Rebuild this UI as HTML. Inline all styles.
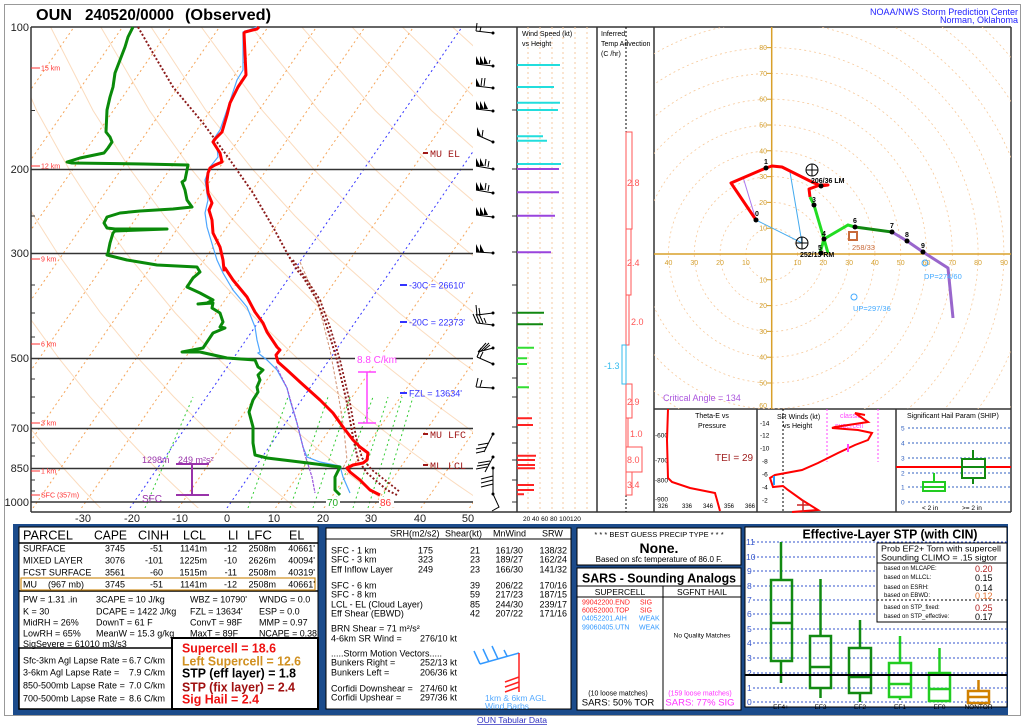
<!DOCTYPE html>
<html><head><meta charset="utf-8"><style>
body{margin:0;background:#fff;}
svg{display:block;font-family:"Liberation Sans",sans-serif;}
.mono{font-family:"Liberation Mono",monospace;}
</style></head><body>
<svg width="1024" height="727" viewBox="0 0 1024 727" xmlns="http://www.w3.org/2000/svg">
<defs>
<clipPath id="skc"><rect x="31" y="27" width="442" height="481"/></clipPath>
<clipPath id="hoc"><rect x="654" y="27" width="357" height="382"/></clipPath>
</defs>
<rect width="1024" height="727" fill="#fff"/>
<rect x="4.5" y="4.5" width="1016" height="711" fill="none" stroke="#999" stroke-width="1"/>

<!-- Title -->
<text x="36" y="20" font-size="16" font-weight="bold" textLength="36" lengthAdjust="spacingAndGlyphs">OUN</text>
<text x="85" y="20" font-size="16" font-weight="bold" textLength="89" lengthAdjust="spacingAndGlyphs">240520/0000</text>
<text x="185" y="20" font-size="16" font-weight="bold" textLength="86" lengthAdjust="spacingAndGlyphs">(Observed)</text>
<text x="1018" y="15" font-size="9" fill="#2222ff" text-anchor="end" textLength="148" lengthAdjust="spacingAndGlyphs">NOAA/NWS Storm Prediction Center</text>
<text x="1018" y="23" font-size="9" fill="#2222ff" text-anchor="end">Norman, Oklahoma</text>

<!-- SKEW-T background -->
<g clip-path="url(#skc)">
<g id="dry" stroke="#fbdcbf" fill="none" stroke-width="1"></g>
<g stroke="#f5a55a" stroke-width="1" stroke-dasharray="2 3" fill="none">
<path d="M-258 508L74 27M-209.5 508L122.5 27M-161 508L171 27M-112.5 508L219.5 27M-64 508L268 27M-15.5 508L316.5 27M33 508L365 27M81.5 508L413.5 27M178.5 508L510.5 27M275.5 508L607.5 27M324 508L656 27M372.5 508L704.5 27M421 508L753 27M469.5 508L801.5 27"/>
</g>
<g stroke="#3333ff" stroke-width="1" stroke-dasharray="2 3" fill="none">
<path d="M130 508L462 27M227 508L559 27"/>
</g>
<g stroke="#33cc33" stroke-width="1" stroke-dasharray="2 3" fill="none">
<path d="M145 508L193 397M248 508L288 397M290 508L328 397M313 508L350 397M333 508L373 397M353 508L388 397M368 508L402 397M380 508L413 397"/>
</g>
</g>
<!-- isobars -->
<g stroke="#333" stroke-width="1.5">
<path d="M31 169.5H473M31 253.5H473M31 358.5H473M31 428.5H473M31 468.5H473M31 502H473"/>
</g>
<g stroke="#333" stroke-width="1">
<path d="M31 110.5H35M31 216H35M31 285H35M31 313H35M31 337H35M31 379H35M31 397H35M31 413H35M31 443H35M31 456H35M31 480H35M31 491H35"/>
</g>
<!-- frames -->
<g stroke="#333" stroke-width="1.5" fill="none">
<path d="M31 27H1011M31 512H1011M31 27V512M517 27V512M597 27V512M654 27V512M1011 27V512M654 409H1011M757 409V512M896 409V512"/>
</g>
<!-- pressure labels -->
<g font-size="11" text-anchor="end" fill="#222">
<text x="29" y="31">100</text><text x="29" y="173">200</text><text x="29" y="257">300</text>
<text x="29" y="362">500</text><text x="29" y="432">700</text><text x="29" y="472">850</text><text x="29" y="506">1000</text>
</g>
<g font-size="11" text-anchor="middle" fill="#222">
<text x="83" y="522">-30</text><text x="132" y="522">-20</text><text x="180" y="522">-10</text><text x="227" y="522">0</text>
<text x="274" y="522">10</text><text x="323" y="522">20</text><text x="371" y="522">30</text><text x="420" y="522">40</text><text x="468" y="522">50</text>
</g>
<!-- height labels -->
<g stroke="#ff3333" stroke-width="1"><path d="M31 68H40M31 166H40M31 259H40M31 344H40M31 423H40M31 471H40M31 495H40"/></g>
<g font-size="7" fill="#ff3333">
<text x="41" y="70.5">15 km</text><text x="41" y="168.5">12 km</text><text x="41" y="261.5">9 km</text><text x="41" y="346.5">6 km</text>
<text x="41" y="425.5">3 km</text><text x="41" y="473.5">1 km</text><text x="41" y="497.5">SFC (357m)</text>
</g>

<!-- parcel traces -->
<polyline fill="none" stroke="#d09070" stroke-width="1" stroke-dasharray="3 2" points="300,262 318,303 330,350 338,393 344,430 347,460 343,468"/>
<polyline fill="none" stroke="#8b1a1a" stroke-width="2" stroke-dasharray="2 2" points="138,27 157,60 173,87 203,123 230,160 253,193 273,227 287,253 297,270 303,277 317,300 327,327 337,360 347,403 353,437 358,460 367,473 387,490 397,495"/>
<polyline fill="none" stroke="#8b1a1a" stroke-width="1.8" stroke-dasharray="2 2" points="293,260 307,280 320,300 330,327 340,360 350,403 356,437 362,458 372,470 390,484 400,492"/>
<!-- wetbulb -->
<polyline fill="none" stroke="#4da6ff" stroke-width="1.2" points="257,27 243,32 243,70 237,80 227,110 220,130 213,140 217,147 218,157 210,167 205,180 208,200 205,213 207,227 213,247 217,260 223,273 233,290 247,307 255,327 257,340 260,352 258,353 267,360 277,370 287,388 290,400 297,423 303,447 307,457 320,462 340,466 343,477 350,493"/>
<polyline fill="none" stroke="#9955dd" stroke-width="1.2" stroke-dasharray="3 1" points="276,366 287,388 297,423 305,455 312,477 315,493"/>
<!-- dewpoint -->
<polyline fill="none" stroke="#0a8a0a" stroke-width="3" stroke-linejoin="round" points="133,27 128,37 125,47 120,60 115,73 113,87 110,97 107,110 106,132 110,137 112,142 108,148 104,153 80,158 67,162 72,163 143,164 188,165 187,170 185,180 182,182 185,190 187,200 192,207 173,209 140,211 120,213 107,217 104,223 107,228 115,229 167,229 115,231 113,233 110,243 108,253 107,255 127,260 157,265 197,267 200,272 193,278 187,287 200,293 213,300 207,303 198,304 213,303 212,308 220,313 223,322 220,327 225,328 213,333 203,348 182,352 200,352 227,358 255,360 258,367 263,370 258,375 260,380 257,387 258,392 253,400 249,412 253,427 253,443 255,455 267,458 300,462 340,467 335,477 335,490 340,495"/>
<!-- temperature -->
<polyline fill="none" stroke="#ff0000" stroke-width="3" stroke-linejoin="round" points="259,27 257,29 245,32 244,33 246,75 238,87 230,103 227,115 222,132 215,139 213,142 220,153 222,162 215,165 210,168 208,173 207,182 208,193 212,203 209,210 212,220 213,233 220,247 223,260 224,270 225,268 233,280 247,297 255,312 263,323 267,332 277,347 280,350 276,355 278,362 287,370 300,382 320,400 333,413 343,427 353,440 360,447 368,453 367,460 363,463 353,465 347,468 350,472 360,480 370,490 380,495"/>

<!-- skew-T annotations -->
<g font-size="10" fill="#a01818" class="mono">
<path d="M423 153H428M423 434H428M423 465H428" stroke="#a01818" stroke-width="2"/>
<text x="430" y="157">MU EL</text><text x="430" y="438">MU LFC</text><text x="430" y="469">ML LCL</text>
</g>
<g font-size="9" fill="#3333ff">
<path d="M400 285H407M400 322H407M400 393H407" stroke="#3333ff" stroke-width="2"/>
<text x="409" y="288.5" textLength="56" lengthAdjust="spacingAndGlyphs">-30C = 26610'</text>
<text x="409" y="325.5" textLength="56" lengthAdjust="spacingAndGlyphs">-20C = 22373'</text>
<text x="409" y="396.5" textLength="53" lengthAdjust="spacingAndGlyphs">FZL = 13634'</text>
</g>
<rect x="355" y="353" width="40" height="11" fill="#fff"/>
<text x="357" y="363" font-size="10" fill="#ff44ff">8.8 C/km</text>
<path d="M367 372V423M358 372H376M358 423H376" stroke="#ff44ff" stroke-width="1.5" fill="none"/>
<g font-size="9" fill="#9933aa">
<text x="142" y="463">1298m</text><text x="178" y="463">249 m²s²</text>
<text x="142" y="502" font-size="10">SFC</text>
</g>
<path d="M192 464V495M176 464H209M176 495H209" stroke="#9933aa" stroke-width="2" fill="none"/>
<rect x="326" y="497" width="14" height="10" fill="#fff"/>
<text x="327" y="506" font-size="10" fill="#22aa22">70</text>
<rect x="379" y="497" width="15" height="10" fill="#fff"/>
<text x="380" y="506" font-size="10" fill="#ff3333">86</text>

<!-- wind barbs -->
<g stroke="#000" stroke-width="1" fill="none">
<path d="M493 33L476 31M476 31L477 23M480 31L481 27"/>
<path d="M493 66L476 64M489 64L490 60"/>
<path d="M493 88L476 86M481 86L482 78M484 86L485 78"/>
<path d="M493 111L476 109"/>
<path d="M493 142L477 135M482 137L483 130"/>
<path d="M493 169L476 166M485 166L486 159M488 167L489 161"/>
<path d="M493 193L476 190M485 190L486 183M488 191L489 185"/>
<path d="M493 217L476 215"/>
<path d="M493 253L476 252"/>
<path d="M493 313L477 315M477 315L476 305M480 315L479 308"/>
<path d="M493 325L477 323M477 323L473 314M480 323L476 314M483 323L479 314M486 323L484 318"/>
<path d="M493 348L478 352M478 352L486 343M481 351L489 343M484 350L490 345"/>
<path d="M493 364L477 357M477 357L481 348M480 358L483 352"/>
<path d="M493 388L476 387M476 387L478 378M480 387L482 380"/>
<path d="M493 434L484 452M489 443L478 445M487 447L476 449M485 451L476 453"/>
<path d="M493 457L485 472M490 461L478 463M489 464L477 466M487 467L476 469"/>
<path d="M493 468V493M493 476L481 479M493 480L481 483M493 484L481 487"/>
<path d="M493 494L499 507L492 511"/>
</g>
<g fill="#000">
<polygon points="476,64 476,56 480,64"/><polygon points="480,64 480,56 484,64"/><polygon points="484,64 484,56 488,64"/>
<polygon points="476,86 476,78 480,86"/>
<polygon points="476,109 476,101 480,109"/><polygon points="480,109 480,101 484,109"/><polygon points="484,109 484,101 488,109"/>
<polygon points="477,135 477,127 481,136"/>
<polygon points="476,166 476,158 480,166"/><polygon points="480,166 480,158 484,166"/>
<polygon points="476,190 476,182 480,190"/><polygon points="480,190 480,182 484,190"/>
<polygon points="476,215 476,207 480,215"/><polygon points="480,215 480,207 484,215"/><polygon points="484,215 484,207 488,215"/>
<polygon points="476,252 476,244 480,252"/><polygon points="480,252 480,244 484,252"/>
<circle cx="493" cy="33" r="1.5"/><circle cx="493" cy="66" r="1.5"/><circle cx="493" cy="88" r="1.5"/><circle cx="493" cy="111" r="1.5"/>
<circle cx="493" cy="142" r="1.5"/><circle cx="493" cy="169" r="1.5"/><circle cx="493" cy="193" r="1.5"/><circle cx="493" cy="217" r="1.5"/>
<circle cx="493" cy="253" r="1.5"/><circle cx="493" cy="313" r="1.5"/><circle cx="493" cy="325" r="1.5"/><circle cx="493" cy="348" r="1.5"/>
<circle cx="493" cy="364" r="1.5"/><circle cx="493" cy="388" r="1.5"/><circle cx="493" cy="434" r="1.5"/><circle cx="493" cy="457" r="1.5"/>
<circle cx="493" cy="468" r="1.5"/><circle cx="493" cy="494" r="1.5"/>
</g>

<!-- wind speed panel -->
<g stroke="#f5c9a0" stroke-dasharray="2 3" stroke-width="1"><path d="M528 27V512M540 27V512M552 27V512M563 27V512M575 27V512M587 27V512"/></g>
<g stroke="#333" stroke-width="1"><path d="M512 110H517M512 169H517M512 216H517M512 252H517M512 285H517M512 313H517M512 378H517M512 397H517M512 427H517M512 443H517M512 460H517M512 480H517M512 502H517"/></g>
<text x="522" y="36" font-size="7">Wind Speed (kt)</text>
<text x="522" y="46" font-size="7">vs Height</text>
<text x="523" y="521" font-size="6.5">20 40 60 80 100120</text>
<g stroke-width="2">
<path stroke="#22dddd" d="M517 65H560M517 87H554M517 102.7H560M517 110H558M517 136.3H543M517 140.7H547M517 164H561"/>
<path stroke="#9944dd" d="M517 169H559M517 192.3H559M517 215.7H555M517 252.3H551"/>
<path stroke="#118811" d="M517 312.7H544M517 324.3H543"/>
<path stroke="#33dd33" d="M517 347.7H534M517 358.3H527M517 364H527M517 387.3H529"/>
<path stroke="#ff2222" d="M517 418.3H532M517 425H533M517 455.7H536M517 460H535M517 465H535M517 468.3H535M517 485H534M517 490H534M517 494.3H524"/>
</g>

<!-- temp advection -->
<text x="601" y="36" font-size="7">Inferred</text>
<text x="601" y="46" font-size="7">Temp Advection</text>
<text x="601" y="56" font-size="7">(C /hr)</text>
<path d="M626 27V512" stroke="#000" stroke-width="1" stroke-dasharray="2 2"/>
<g fill="none" stroke="#ff5555" stroke-width="1">
<rect x="626" y="132" width="6" height="97"/><rect x="626" y="229" width="5" height="66"/><rect x="626" y="295" width="3" height="50"/>
<rect x="626" y="384" width="6" height="34"/><rect x="626" y="418" width="2" height="29"/><rect x="626" y="447" width="16" height="25"/><rect x="626" y="472" width="6" height="23"/>
</g>
<rect x="622" y="345" width="4" height="39" fill="none" stroke="#33bbee" stroke-width="1"/>
<g font-size="9" fill="#ff5555">
<text x="627" y="186">2.8</text><text x="627" y="266">2.4</text><text x="631" y="325">2.0</text>
<text x="627" y="405">2.9</text><text x="630" y="437">1.0</text><text x="627" y="463">8.0</text><text x="627" y="488">3.4</text>
</g>
<text x="604" y="369" font-size="9" fill="#33bbee">-1.3</text>

<!-- HODOGRAPH -->
<g clip-path="url(#hoc)" fill="none" stroke="#f7c99a" stroke-width="0.8" stroke-dasharray="2 3">
<circle cx="771.7" cy="254" r="25.8"/><circle cx="771.7" cy="254" r="51.6"/><circle cx="771.7" cy="254" r="77.4"/>
<circle cx="771.7" cy="254" r="103.2"/><circle cx="771.7" cy="254" r="129"/><circle cx="771.7" cy="254" r="154.8"/>
<circle cx="771.7" cy="254" r="180.6"/><circle cx="771.7" cy="254" r="206.4"/><circle cx="771.7" cy="254" r="232.2"/>
<circle cx="771.7" cy="254" r="258"/><circle cx="771.7" cy="254" r="283.8"/><circle cx="771.7" cy="254" r="309.6"/><circle cx="771.7" cy="254" r="335.4"/>
</g>
<path d="M654 254H1011M771.7 27V409" stroke="#d9a02a" stroke-width="1.5"/>
<g font-size="7" fill="#d4a030" text-anchor="middle">
<text x="668.5" y="265">40</text><text x="694.3" y="265">30</text><text x="720" y="265">20</text><text x="745.9" y="265">10</text>
<text x="797.5" y="265">10</text><text x="823.3" y="265">20</text><text x="849.1" y="265">30</text><text x="874.9" y="265">40</text>
<text x="900.7" y="265">50</text><text x="926.5" y="265">60</text><text x="952.3" y="265">70</text><text x="978" y="265">80</text><text x="1004" y="265">90</text>
</g>
<g font-size="7" fill="#d4a030" text-anchor="end">
<text x="767" y="50">80</text><text x="767" y="76">70</text><text x="767" y="101.7">60</text><text x="767" y="127.5">50</text>
<text x="767" y="153.3">40</text><text x="767" y="179">30</text><text x="767" y="205">20</text><text x="767" y="230.7">10</text>
<text x="767" y="282.3">10</text><text x="767" y="308">20</text><text x="767" y="334">30</text><text x="767" y="359.7">40</text><text x="767" y="385.5">50</text><text x="767" y="408">60</text>
</g>
<g stroke="#d4a030" stroke-width="1"><path d="M767 47.6H772M767 73.4H772M767 99.2H772M767 125H772M767 150.8H772M767 176.6H772M767 202.4H772M767 228.2H772M767 279.8H772M767 305.6H772M767 331.4H772M767 357.2H772M767 383H772"/></g>
<!-- hodo traces -->
<path d="M743 177L756 220" stroke="#aa77ee" stroke-width="1" fill="none"/>
<path d="M756 220L802 243L790 172" stroke="#44aaee" stroke-width="1" fill="none"/>
<polyline fill="none" stroke="#ff0000" stroke-width="3" stroke-linejoin="round" points="756,220 731,183 766,168 772,166 782,167 812,182 821,186 828,185 820,185 809,189 810,197"/>
<polyline fill="none" stroke="#22dd22" stroke-width="3" stroke-linejoin="round" points="810,197 814,205 824,239 828,253"/>
<polyline fill="none" stroke="#22dd22" stroke-width="3" points="824,239 820,253"/>
<polyline fill="none" stroke="#22dd22" stroke-width="3" points="824,239 848,225 855,227"/>
<polyline fill="none" stroke="#118811" stroke-width="3" points="855,227 892,232"/>
<polyline fill="none" stroke="#9966cc" stroke-width="3" stroke-linejoin="round" points="892,232 907,241 923,252 948,268 953,318"/>
<g fill="#000">
<circle cx="756" cy="220" r="2.5"/><circle cx="766" cy="168" r="2.5"/><circle cx="821" cy="186" r="2.5"/><circle cx="814" cy="205" r="2.5"/>
<circle cx="824" cy="239" r="2.5"/><circle cx="821" cy="253" r="2.5"/><circle cx="855" cy="227" r="2.5"/><circle cx="892" cy="232" r="2.5"/>
<circle cx="907" cy="241" r="2.5"/><circle cx="923" cy="252" r="2.5"/>
</g>
<g font-size="7" font-weight="bold" fill="#000">
<text x="755" y="216">0</text><text x="764" y="164">1</text><text x="812" y="202">3</text><text x="822" y="236">4</text>
<text x="818" y="250">5</text><text x="853" y="223">6</text><text x="890" y="228">7</text><text x="905" y="237">8</text><text x="921" y="248">9</text>
<text x="811" y="183">206/36 LM</text><text x="800" y="257">252/13 RM</text>
</g>
<g fill="none" stroke="#000" stroke-width="1">
<circle cx="812" cy="170" r="6"/><path d="M806 170H818M812 164V176"/>
<circle cx="802" cy="243" r="6"/><path d="M796 243H808M802 237V249"/>
</g>
<rect x="849" y="232" width="8" height="8" fill="none" stroke="#c86a3a" stroke-width="2"/>
<text x="852" y="250" font-size="7.5" fill="#c86a3a">258/33</text>
<circle cx="925" cy="263" r="3" fill="none" stroke="#44aaff"/>
<text x="924" y="279" font-size="7.5" fill="#44aaff">DP=274/60</text>
<circle cx="854" cy="297" r="3" fill="none" stroke="#44aaff"/>
<text x="853" y="311" font-size="7.5" fill="#44aaff">UP=297/36</text>
<text x="663" y="401" font-size="9" fill="#aa55dd">Critical Angle = 134</text>

<!-- theta-e panel -->
<text x="712" y="418" font-size="7" text-anchor="middle">Theta-E vs</text>
<text x="712" y="428" font-size="7" text-anchor="middle">Pressure</text>
<g font-size="6.5">
<text x="655" y="437.5">-600</text><text x="655" y="462.5">-700</text><text x="655" y="482.5">-800</text><text x="655" y="501.5">-900</text>
</g>
<g font-size="6" text-anchor="middle">
<text x="663" y="508">326</text><text x="687" y="508">336</text><text x="708" y="508">346</text><text x="729" y="508">356</text><text x="750" y="508">366</text>
</g>
<polyline fill="none" stroke="#ff0000" stroke-width="2" points="668,409 667,440 668,478 672,482 690,488 715,493 717,500 720,511"/>
<text x="715" y="461" font-size="10" fill="#a02020">TEI = 29</text>

<!-- SR winds panel -->
<text x="777" y="419" font-size="7">SR Winds (kt)</text>
<text x="783" y="428" font-size="7">vs Height</text>
<g font-size="6.5">
<text x="760" y="425.5">-14</text><text x="760" y="437.5">-12</text><text x="760" y="450.5">-10</text><text x="762" y="463.5">-8</text>
<text x="762" y="476.5">-6</text><text x="762" y="489.5">-4</text><text x="762" y="502.5">-2</text>
</g>
<path d="M783 409V512" stroke="#000" stroke-dasharray="2 2"/>
<path d="M827 409V462M878 409V462" stroke="#ff44ff" stroke-dasharray="2 2"/>
<text x="840" y="418" font-size="7" fill="#ff44ff">classic</text>
<text x="835" y="428" font-size="7" fill="#ff44ff">supercell</text>
<polyline fill="none" stroke="#ff0000" stroke-width="2" points="792,512 818,510 802,500 788,490 783,486 773,487 770,478 775,475 802,470 818,463 838,453 855,445 868,440 872,433 858,430 832,428 835,427 868,422 855,413 865,415"/>
<path d="M774 476V485" stroke="#2299ff" stroke-width="2"/>
<path d="M848 444V452" stroke="#ff44ff" stroke-width="2"/>
<path d="M803 500V512M797 505H809" stroke="#cc2222" stroke-width="1.5"/>

<!-- SHIP -->
<text x="907" y="418" font-size="7">Significant Hail Param (SHIP)</text>
<g stroke="#3060c0" stroke-dasharray="2 2" stroke-width="1"><path d="M908 428H1011M908 443H1011M908 458H1011M908 473H1011M908 487H1011M908 502H1011"/></g>
<g font-size="6.5" fill="#3060c0"><text x="901" y="430.5">5</text><text x="901" y="445.5">4</text><text x="901" y="460.5">3</text><text x="901" y="475.5">2</text><text x="901" y="489.5">1</text><text x="901" y="504.5">0</text></g>
<path d="M896 467H1011" stroke="#ff0000" stroke-width="2"/>
<rect x="923" y="482" width="22" height="9" fill="none" stroke="#22cc22" stroke-width="2"/>
<path d="M923 487H945M934 482V473" stroke="#22cc22" stroke-width="2" fill="none"/>
<rect x="962" y="459" width="23" height="19" fill="none" stroke="#118811" stroke-width="2"/>
<path d="M962 467H985M973 459V450M973 478V484" stroke="#118811" stroke-width="2" fill="none"/>
<text x="922" y="510" font-size="6.5">&lt; 2 in</text>
<text x="962" y="510" font-size="6.5">&gt;= 2 in</text>

<!-- BOTTOM -->
<rect x="13" y="524" width="995" height="191" fill="#1b4b8b"/>
<!-- Panel A -->
<rect x="19" y="527" width="299" height="182" fill="#fff" stroke="#000" stroke-width="1"/>
<path d="M19 543H318M19 591H318" stroke="#000" stroke-width="1.5"/>
<rect x="21" y="578" width="294" height="12" fill="none" stroke="#d09020" stroke-width="1.2"/>
<rect x="19" y="648" width="153" height="61" fill="#fff" stroke="#000" stroke-width="1.5"/>
<rect x="172" y="638" width="146" height="71" fill="#fff" stroke="#000" stroke-width="2"/>
<g font-size="12.5">
<text x="23" y="539.5" textLength="50" lengthAdjust="spacingAndGlyphs">PARCEL</text>
<text x="94" y="539.5" textLength="33" lengthAdjust="spacingAndGlyphs">CAPE</text>
<text x="138" y="539.5" textLength="31" lengthAdjust="spacingAndGlyphs">CINH</text>
<text x="183" y="539.5" textLength="23" lengthAdjust="spacingAndGlyphs">LCL</text>
<text x="228" y="539.5">LI</text>
<text x="247" y="539.5" textLength="25" lengthAdjust="spacingAndGlyphs">LFC</text>
<text x="289" y="539.5">EL</text>
</g>
<g font-size="9">
<text x="23" y="551.5">SURFACE</text><text x="23" y="563.5">MIXED LAYER</text><text x="23" y="575.5">FCST SURFACE</text>
<text x="23" y="587.5">MU</text><text x="48" y="587.5">(967 mb)</text>
</g>
<g font-size="9" text-anchor="end">
<text x="125" y="551.5">3745</text><text x="163" y="551.5">-51</text><text x="207" y="551.5">1141m</text><text x="237" y="551.5">-12</text><text x="276" y="551.5">2508m</text><text x="315" y="551.5">40661'</text>
<text x="125" y="563.5">3076</text><text x="163" y="563.5">-101</text><text x="207" y="563.5">1225m</text><text x="237" y="563.5">-10</text><text x="276" y="563.5">2626m</text><text x="315" y="563.5">40094'</text>
<text x="125" y="575.5">3561</text><text x="163" y="575.5">-60</text><text x="207" y="575.5">1515m</text><text x="237" y="575.5">-11</text><text x="276" y="575.5">2508m</text><text x="315" y="575.5">40319'</text>
<text x="125" y="587.5">3745</text><text x="163" y="587.5">-51</text><text x="207" y="587.5">1141m</text><text x="237" y="587.5">-12</text><text x="276" y="587.5">2508m</text><text x="315" y="587.5">40661'</text>
</g>
<g font-size="9">
<text x="23" y="602.5">PW = 1.31 .in</text><text x="96" y="602.5">3CAPE = 10 J/kg</text><text x="190" y="602.5">WBZ = 10790'</text><text x="259" y="602.5">WNDG = 0.0</text>
<text x="23" y="614.5">K = 30</text><text x="96" y="614.5">DCAPE = 1422 J/kg</text><text x="190" y="614.5">FZL = 13634'</text><text x="259" y="614.5">ESP = 0.0</text>
<text x="23" y="625.5">MidRH = 26%</text><text x="96" y="625.5">DownT = 61 F</text><text x="190" y="625.5">ConvT = 98F</text><text x="259" y="625.5">MMP = 0.97</text>
<text x="23" y="636.5">LowRH = 65%</text><text x="96" y="636.5">MeanW = 15.3 g/kg</text><text x="190" y="636.5">MaxT = 89F</text><text x="259" y="636.5" textLength="58" lengthAdjust="spacingAndGlyphs">NCAPE = 0.38</text>
<text x="23" y="647">SigSevere = 61010 m3/s3</text>
<text x="23" y="663.5">Sfc-3km Agl Lapse Rate =</text><text x="129" y="663.5">6.7 C/km</text>
<text x="23" y="675.5">3-6km Agl Lapse Rate =</text><text x="129" y="675.5">7.9 C/km</text>
<text x="23" y="688.5">850-500mb Lapse Rate =</text><text x="129" y="688.5">7.0 C/km</text>
<text x="23" y="701.5">700-500mb Lapse Rate =</text><text x="129" y="701.5">8.6 C/km</text>
</g>
<g font-size="12.5" font-weight="bold">
<text x="182" y="652.5" fill="#ee1111" textLength="94" lengthAdjust="spacingAndGlyphs">Supercell = 18.6</text>
<text x="182" y="665.5" fill="#d09020" textLength="119" lengthAdjust="spacingAndGlyphs">Left Supercell = 12.6</text>
<text x="182" y="677.5" fill="#000" textLength="114" lengthAdjust="spacingAndGlyphs">STP (eff layer) = 1.8</text>
<text x="182" y="691.5" fill="#a01010" textLength="113" lengthAdjust="spacingAndGlyphs">STP (fix layer) = 2.4</text>
<text x="182" y="703.5" fill="#ee1111" textLength="77" lengthAdjust="spacingAndGlyphs">Sig Hail = 2.4</text>
</g>

<!-- Panel B -->
<rect x="326" y="528" width="245" height="181" fill="#fff" stroke="#000" stroke-width="1"/>
<path d="M326 539H571" stroke="#000" stroke-width="1"/>
<g font-size="9">
<text x="390" y="536.5">SRH(m2/s2)</text><text x="445" y="536.5">Shear(kt)</text><text x="493" y="536.5">MnWind</text><text x="542" y="536.5">SRW</text>
<text x="331" y="553.5">SFC - 1 km</text><text x="331" y="562.5">SFC - 3 km</text><text x="331" y="572.5">Eff Inflow Layer</text>
<text x="331" y="588.5">SFC - 6 km</text><text x="331" y="597.5">SFC - 8 km</text><text x="331" y="607.5">LCL - EL (Cloud Layer)</text><text x="331" y="616.5">Eff Shear (EBWD)</text>
<text x="331" y="631.5">BRN Shear =  71 m²/s²</text>
<text x="331" y="641.5">4-6km SR Wind =</text><text x="420" y="641.5">276/10 kt</text>
<text x="331" y="656.5">.....Storm Motion Vectors.....</text>
<text x="331" y="665.5">Bunkers Right =</text><text x="420" y="665.5">252/13 kt</text>
<text x="331" y="675.5">Bunkers Left =</text><text x="420" y="675.5">206/36 kt</text>
<text x="331" y="691.5">Corfidi Downshear =</text><text x="420" y="691.5">274/60 kt</text>
<text x="331" y="700.5">Corfidi Upshear =</text><text x="420" y="700.5">297/36 kt</text>
</g>
<g font-size="9" text-anchor="end">
<text x="433" y="553.5">175</text><text x="480" y="553.5">21</text><text x="523" y="553.5">161/30</text><text x="567" y="553.5">138/32</text>
<text x="433" y="562.5">323</text><text x="480" y="562.5">23</text><text x="523" y="562.5">189/27</text><text x="567" y="562.5">162/24</text>
<text x="433" y="572.5">249</text><text x="480" y="572.5">23</text><text x="523" y="572.5">166/30</text><text x="567" y="572.5">141/32</text>
<text x="480" y="588.5">39</text><text x="523" y="588.5">206/22</text><text x="567" y="588.5">170/16</text>
<text x="480" y="597.5">59</text><text x="523" y="597.5">217/23</text><text x="567" y="597.5">187/15</text>
<text x="480" y="607.5">85</text><text x="523" y="607.5">244/30</text><text x="567" y="607.5">239/17</text>
<text x="480" y="616.5">42</text><text x="523" y="616.5">207/22</text><text x="567" y="616.5">171/16</text>
</g>
<g stroke="#3399ff" stroke-width="1.5" fill="none">
<path d="M480 664L519 653M480 664L474 651M489 662L483 649M498 659L492 646M507 656L504 650"/>
</g>
<g stroke="#ff2020" stroke-width="1.5" fill="none">
<path d="M519 653V692M519 677L505 682M519 682L505 687M519 687L505 692"/>
</g>
<text x="485" y="701" font-size="8.5" fill="#55aaff">1km &amp; 6km AGL</text>
<text x="485" y="709" font-size="8.5" fill="#55aaff">Wind Barbs</text>
<text x="477" y="723" font-size="8.5" fill="#3030c0" textLength="70" lengthAdjust="spacingAndGlyphs">OUN Tabular Data</text>
<path d="M477 724.5H547" stroke="#3030c0" stroke-width="0.8"/>

<!-- Panel C -->
<rect x="577" y="528" width="164" height="37" fill="#fff" stroke="#000" stroke-width="1"/>
<text x="659" y="537" font-size="7.5" text-anchor="middle">* * * BEST GUESS PRECIP TYPE * * *</text>
<text x="659" y="553" font-size="14" font-weight="bold" text-anchor="middle">None.</text>
<text x="659" y="562" font-size="8" text-anchor="middle">Based on sfc temperature of 86.0 F.</text>
<rect x="577" y="568" width="164" height="142" fill="#fff" stroke="#000" stroke-width="1"/>
<text x="659" y="582.5" font-size="13" font-weight="bold" text-anchor="middle" textLength="154" lengthAdjust="spacingAndGlyphs">SARS - Sounding Analogs</text>
<path d="M577 586H741M577 597H741M663 586V710" stroke="#000" stroke-width="1"/>
<text x="620" y="595" font-size="8.5" text-anchor="middle">SUPERCELL</text>
<text x="702" y="595" font-size="8.5" text-anchor="middle">SGFNT HAIL</text>
<g font-size="7">
<text x="582" y="604.5" fill="#ff2222">99042200.END</text><text x="640" y="604.5" fill="#ff2222">SIG</text>
<text x="582" y="612.5" fill="#ff2222">60052000.TOP</text><text x="640" y="612.5" fill="#ff2222">SIG</text>
<text x="582" y="620.5" fill="#3399ff">04052201.AIH</text><text x="639" y="620.5" fill="#3399ff">WEAK</text>
<text x="582" y="629.5" fill="#3399ff">99060405.UTN</text><text x="639" y="629.5" fill="#3399ff">WEAK</text>
</g>
<text x="702" y="637.5" font-size="6.5" text-anchor="middle">No Quality Matches</text>
<text x="618" y="695.5" font-size="7" text-anchor="middle">(10 loose matches)</text>
<text x="618" y="705.5" font-size="9.5" text-anchor="middle">SARS:  50% TOR</text>
<text x="700" y="695.5" font-size="7" text-anchor="middle" fill="#ff33ff">(159 loose matches)</text>
<text x="700" y="705.5" font-size="9.5" text-anchor="middle" fill="#ff33ff">SARS:  77% SIG</text>

<!-- Panel D -->
<rect x="745" y="527" width="262" height="180" fill="#fff" stroke="#000" stroke-width="1"/>
<g stroke="#3355cc" stroke-dasharray="2 2" stroke-width="1">
<path d="M753 542H1007M753 557H1007M753 571H1007M753 586H1007M753 600H1007M753 614H1007M753 629H1007M753 643H1007M753 658H1007M753 673H1007M753 688H1007M753 702H1007"/>
</g>
<g font-size="8.5" fill="#3355cc">
<text x="746" y="545">11</text><text x="746" y="560">10</text><text x="747" y="574">9</text><text x="747" y="589">8</text><text x="747" y="603">7</text><text x="747" y="617">6</text>
<text x="747" y="632">5</text><text x="747" y="646">4</text><text x="747" y="661">3</text><text x="747" y="676">2</text><text x="747" y="691">1</text><text x="747" y="705">0</text>
</g>
<text x="890" y="538.5" font-size="13" font-weight="bold" text-anchor="middle" textLength="175" lengthAdjust="spacingAndGlyphs">Effective-Layer STP (with CIN)</text>
<g fill="none" stroke-width="2.5">
<g stroke="#128a12">
<path d="M781 542V580M781 661V683"/><rect x="771" y="580" width="21" height="81"/><path d="M771 623H792"/>
<path d="M820.5 579V636M820.5 688V698"/><rect x="810" y="636" width="21" height="52"/><path d="M810 667H831"/>
<path d="M860 620V648M860 693V702"/><rect x="849" y="648" width="22" height="45"/><path d="M849 677H871"/>
</g>
<g stroke="#22cc22">
<path d="M900 636V663M900 697V700"/><rect x="889" y="663" width="22" height="34"/><path d="M889 684H911"/>
<path d="M939.5 648V673"/><rect x="929" y="673" width="21" height="28"/><path d="M929 689H950"/>
</g>
<g stroke="#d08000">
<path d="M978.5 680V691"/><rect x="968" y="691" width="21" height="12"/><path d="M968 697H989"/>
</g>
</g>
<path d="M745 675H1007" stroke="#000" stroke-width="2"/>
<g font-size="6.5" text-anchor="middle">
<text x="781" y="709">EF4+</text><text x="820.5" y="709">EF3</text><text x="860" y="709">EF2</text><text x="900" y="709">EF1</text><text x="939.5" y="709">EF0</text><text x="978.5" y="709">NONTOR</text>
</g>
<rect x="877" y="543" width="130" height="79" fill="#fff" stroke="#000" stroke-width="1"/>
<text x="881" y="551.5" font-size="8.5" textLength="120" lengthAdjust="spacingAndGlyphs">Prob EF2+ Torn with supercell</text>
<text x="881" y="560.5" font-size="8.5" textLength="116" lengthAdjust="spacingAndGlyphs">Sounding CLIMO = .15 sigtor</text>
<path d="M877 563H1007" stroke="#000"/>
<path d="M877 600H1007" stroke="#000" stroke-dasharray="2 2"/>
<g font-size="6">
<text x="884" y="570">based on MLCAPE:</text><text x="884" y="579">based on MLLCL:</text>
<text x="884" y="589">based on ESRH:</text><text x="884" y="597">based on EBWD:</text>
<text x="884" y="609">based on STP_fixed:</text><text x="884" y="618">based on STP_effective:</text>
</g>
<g font-size="9">
<text x="975" y="572" fill="#b02020">0.20</text><text x="975" y="581">0.15</text>
<text x="975" y="591">0.14</text><text x="975" y="599" fill="#e07030">0.12</text>
<text x="975" y="611" fill="#b02020">0.25</text><text x="975" y="620">0.17</text>
</g>
</svg>
<script>
(function(){
var g=document.getElementById('dry');
var ps=[1050,1000,925,850,775,700,600,500,400,300,250,200,150,100];
for(var th=225;th<=505;th+=20){
var d='';
for(var i=0;i<ps.length;i++){var p=ps[i];var y=502-206.3*Math.log(1000/p);var T=th*Math.pow(p/1000,0.2857)-273.15;var x=227+4.85*T+0.69*(508-y);d+=(i?'L':'M')+x.toFixed(1)+' '+y.toFixed(1);}
var e=document.createElementNS('http://www.w3.org/2000/svg','path');e.setAttribute('d',d);g.appendChild(e);}
})();
</script>
</body></html>
